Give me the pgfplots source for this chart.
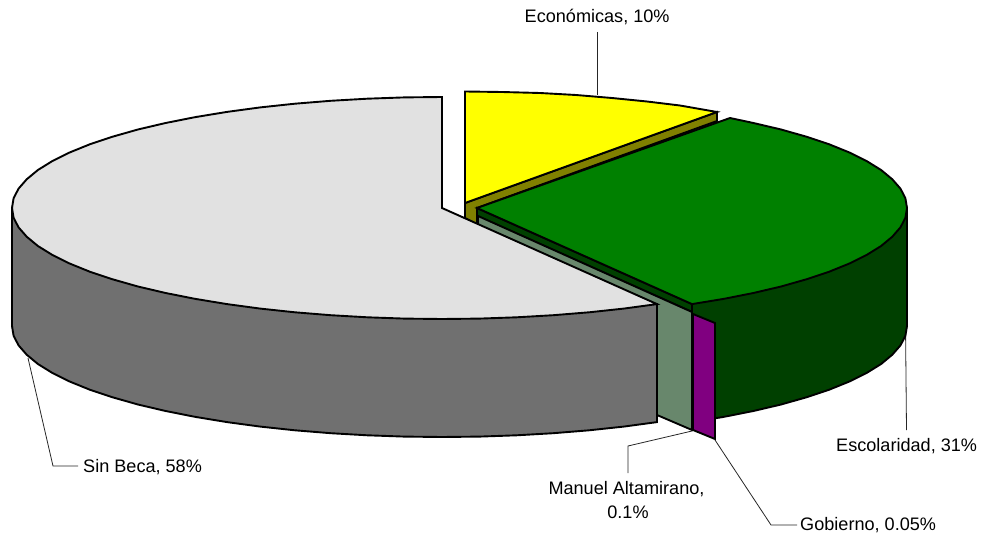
\documentclass[border=0pt]{standalone}
\usepackage{fontspec}
\setmainfont{Liberation Sans}
\usepackage{pgfplots}
\pgfplotsset{compat=1.18}
\definecolor{topgray}{RGB}{225,225,225}
\definecolor{sidegray}{RGB}{112,112,112}
\definecolor{sideolive}{RGB}{128,128,0}
\definecolor{topyellow}{RGB}{255,255,0}
\definecolor{topgreen}{RGB}{0,128,0}
\definecolor{sidegreen}{RGB}{0,64,0}
\definecolor{sidesage}{RGB}{104,135,108}
\definecolor{sidepurple}{RGB}{128,0,128}
\tikzset{lab/.style={inner sep=0pt, font=\fontsize{18.1}{21}\selectfont, text=black}}
\begin{document}
\begin{tikzpicture}
\begin{axis}[
  scale only axis, width=982pt, height=540pt,
  xmin=0, xmax=982, ymin=0, ymax=540, y dir=reverse,
  hide axis, clip=false,
  every axis plot/.append style={mark=none, line width=1.9pt, draw=black, line join=miter},
]
% page corners
\addplot[draw=none] coordinates {(0,0)(982,540)};
% leader lines
\addplot[line width=0.8pt, draw=black!85] coordinates {(597.5,32)(597.5,95)};
\addplot[line width=0.8pt, draw=black!85] coordinates {(905.5,326)(906.5,430)};
\addplot[line width=0.8pt, draw=black!85] coordinates {(28,358)(53,466)(78,466)};
\addplot[line width=0.8pt, draw=black!85] coordinates {(692,431)(628,446)(628,473)};
\addplot[line width=0.8pt, draw=black!85] coordinates {(715,440)(771,525)(797,525)};

% Economicas: wall, then top
\addplot[fill=sideolive] coordinates {(465,203)(717,112)(717,121)(477,208)(477,225)(465,218)} -- cycle;
\addplot[fill=topyellow] coordinates {(465,203)(465,91.5)(502,92)(540,93)(576,95)(612,98)(647,101.5)(680,105.5)(717,112)} -- cycle;

% Escolaridad: outer wall
\addplot[fill=sidegreen] coordinates {(907,208)(907,326)(905.4,335.7)(900.5,345.3)(892.3,354.7)(881.1,364)(866.7,372.9)(849.4,381.5)(829.2,389.7)(806.4,397.3)(781.1,404.5)(753.4,411)(723.6,416.9)(692,422.1)(692,304.1)} -- cycle;
% Escolaridad: cut wall strip
\addplot[fill=sidegreen] coordinates {(477,208)(692,304)(692,312)(477,216)} -- cycle;
% Manuel Altamirano wall
\addplot[fill=sidesage] coordinates {(478,216)(692,312)(692,430)(657,415)(478,225)} -- cycle;
% Gobierno wall
\addplot[fill=sidepurple] coordinates {(693,314)(715,323)(715,439)(693,430)} -- cycle;

% Sin Beca: outer wall, then top
\addplot[fill=sidegray] coordinates {(12,208)(12,326)(13.6,335.7)(18.5,345.3)(26.7,354.7)(37.9,364)(52.3,372.9)(69.6,381.5)(89.8,389.7)(112.6,397.3)(137.9,404.5)(165.6,411)(195.4,416.9)(227,422.1)(260.3,426.6)(294.9,430.3)(330.7,433.2)(367.3,435.3)(404.5,436.6)(442,437)(479.5,436.6)(516.7,435.3)(553.3,433.2)(589.1,430.3)(623.7,426.6)(657,422.1)(657,304.1)} -- cycle;
\addplot[fill=topgray] coordinates {(442,208)(442,97)(404.5,97.4)(367.3,98.7)(330.7,100.8)(294.9,103.7)(260.3,107.4)(227,111.9)(195.4,117.1)(165.6,123)(137.9,129.5)(112.6,136.7)(89.8,144.3)(69.6,152.5)(52.3,161.1)(37.9,170)(26.7,179.3)(18.5,188.7)(13.6,198.3)(12,208)(13.6,217.7)(18.5,227.3)(26.7,236.7)(37.9,246)(52.3,254.9)(69.6,263.5)(89.8,271.7)(112.6,279.3)(137.9,286.5)(165.6,293)(195.4,298.9)(227,304.1)(260.3,308.6)(294.9,312.3)(330.7,315.2)(367.3,317.3)(404.5,318.6)(442,319)(479.5,318.6)(516.7,317.3)(553.3,315.2)(589.1,312.3)(623.7,308.6)(657,304.1)} -- cycle;

% Escolaridad: top
\addplot[fill=topgreen] coordinates {(477,208)(730,118)(753.4,123)(781.1,129.5)(806.4,136.7)(829.2,144.3)(849.4,152.5)(866.7,161.1)(881.1,170)(892.3,179.3)(900.5,188.7)(905.4,198.3)(907,208)(905.4,217.7)(900.5,227.3)(892.3,236.7)(881.1,246)(866.7,254.9)(849.4,263.5)(829.2,271.7)(806.4,279.3)(781.1,286.5)(753.4,293)(723.6,298.9)(692,304.1)} -- cycle;

% labels
\node[lab, anchor=base west] at (axis cs:524.5,23) {Económicas, 10\%};
\node[lab, anchor=base west] at (axis cs:836,451) {Escolaridad, 31\%};
\node[lab, anchor=base west] at (axis cs:83,472) {Sin Beca, 58\%};
\node[lab, anchor=base] at (axis cs:626.5,494) {Manuel Altamirano,};
\node[lab, anchor=base] at (axis cs:628,518) {0.1\%};
\node[lab, anchor=base west] at (axis cs:800,530) {Gobierno, 0.05\%};
\end{axis}
\end{tikzpicture}
\end{document}
